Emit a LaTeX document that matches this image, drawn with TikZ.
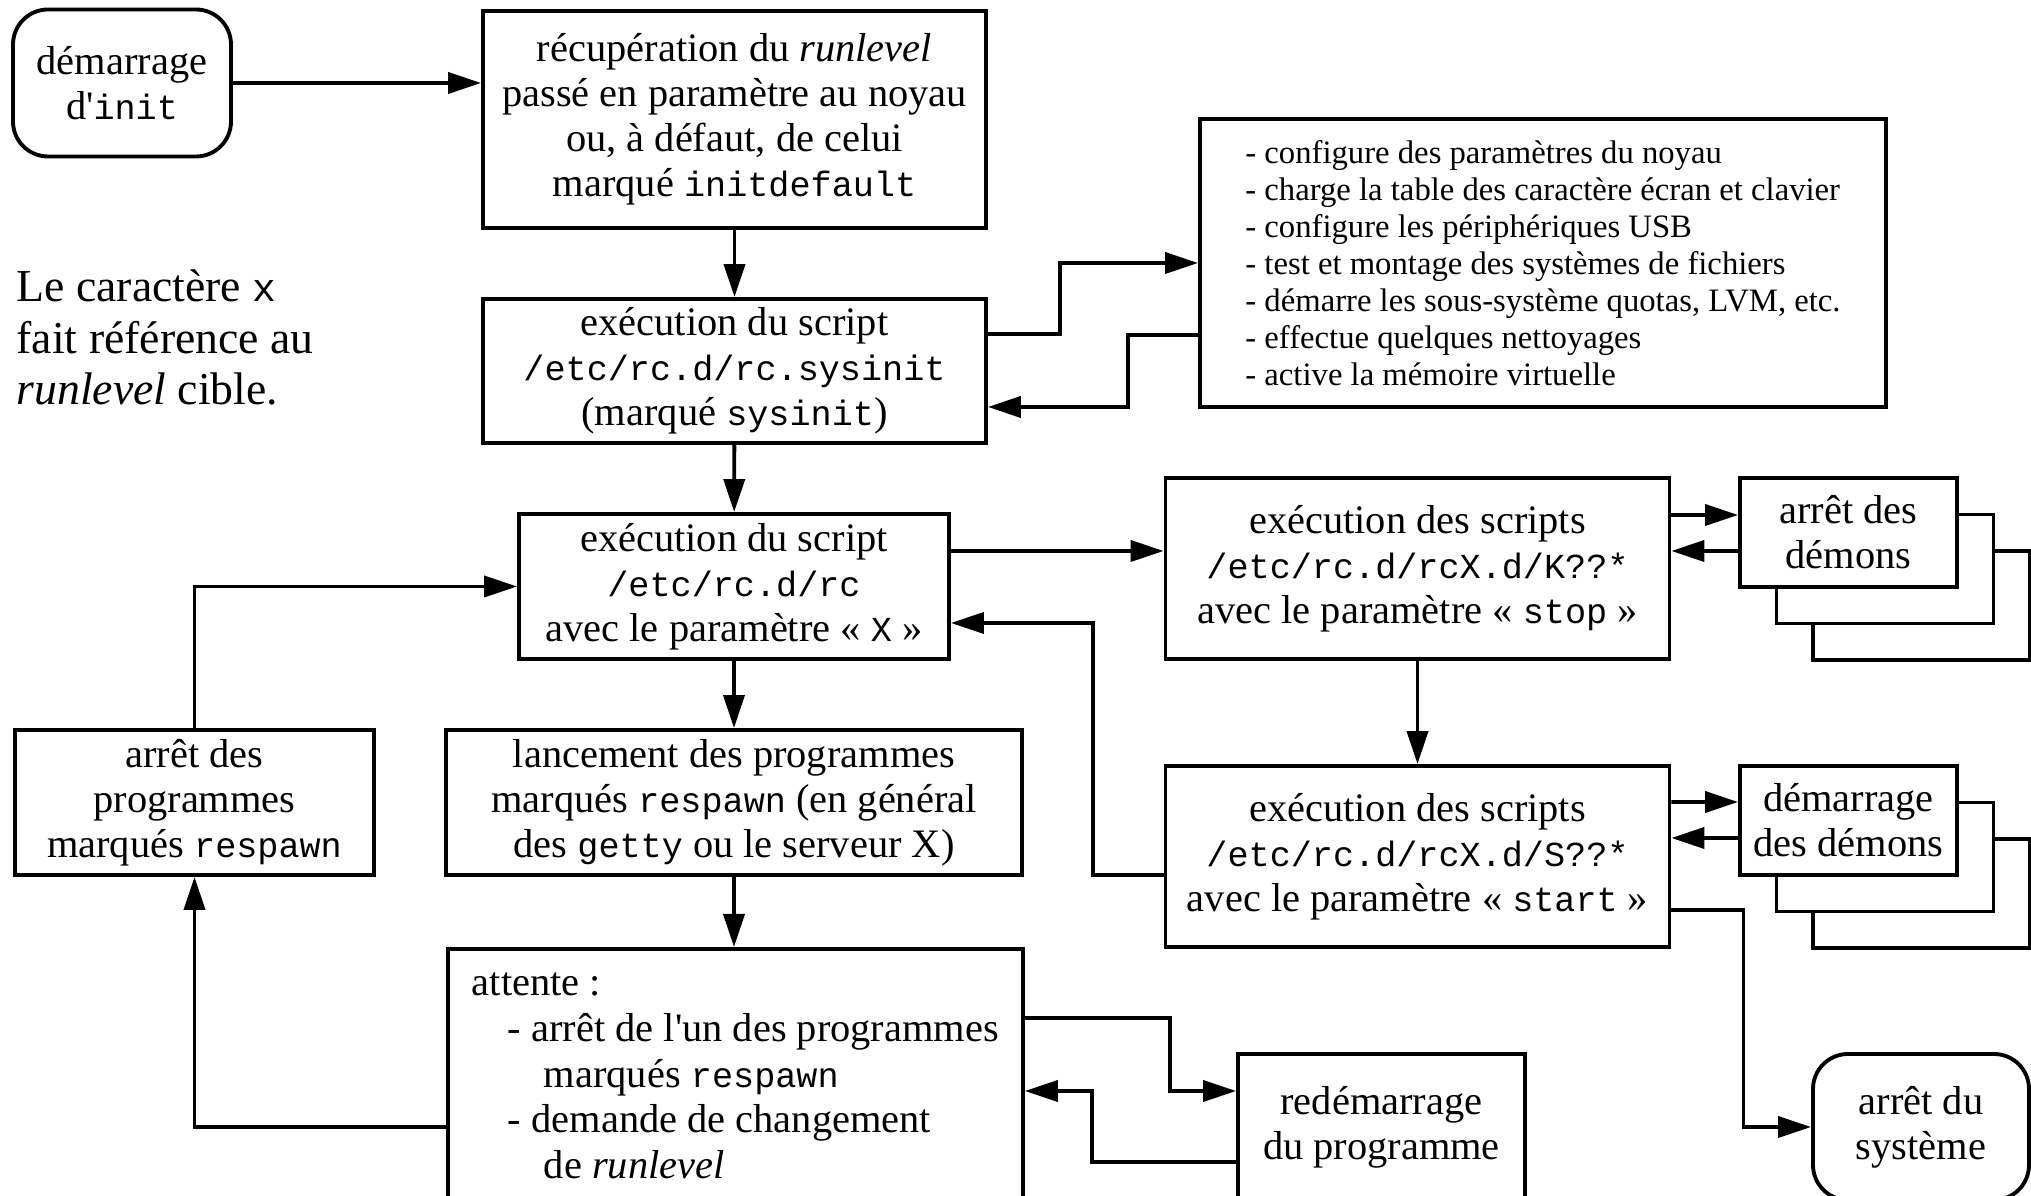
\documentclass[tikz,border=0pt]{standalone}
\usepackage{fontspec}
\setmainfont{Liberation Serif}
\setmonofont{Liberation Mono}[Scale=0.87]
\newfontfamily\droit{Liberation Serif}
\usepackage{tikz}
\usetikzlibrary{arrows.meta}
\tikzset{>=latex}
\tikzstyle{etape}=[draw,line width=1.1pt,fill=white,align=center,inner sep=2pt]
\tikzstyle{extremite}=[etape,rounded corners=3.5mm]
\tikzstyle{pile}=[etape,minimum width=2.17cm,minimum height=1.09cm]
\tikzstyle{fleche}=[-{Triangle[length=3.3mm,width=2.1mm]},line width=1.1pt]
\newcommand{\tnormal}{\fontsize{11.5}{12.8}\selectfont}
\newcommand{\apos}{{\droit'}}

\begin{document}
\begin{tikzpicture}[font=\tnormal]

  \useasboundingbox (0,0) rectangle (20.31,-11.96);
  \clip (0,0) rectangle (20.31,-11.96); % the bottom boxes are cut

  \node[extremite,minimum width=2.18cm,minimum height=1.47cm] (init) at (1.22,-0.83) {démarrage\\d\apos\texttt{init}};
  \node[etape,minimum width=5.03cm,minimum height=2.17cm] (recup) at (7.345,-1.195)
    {récupération du \emph{runlevel}\\passé en paramètre au noyau\\ou, à défaut, de celui\\marqué \texttt{initdefault}};
  \node[etape,minimum width=5.03cm,minimum height=1.44cm] (sysinit) at (7.345,-3.71)
    {exécution du script\\\texttt{/etc/rc.d/rc.sysinit}\\(marqué \texttt{sysinit})};
  \node[etape,minimum width=6.86cm,minimum height=2.88cm,align=left,font=\fontsize{9.3}{10.5}\selectfont] (config) at (15.43,-2.63)
    {- configure des paramètres du noyau\\- charge la table des caractère écran et clavier\\- configure les périphériques USB\\- test et montage des systèmes de fichiers\\- démarre les sous-système quotas, LVM, etc.\\- effectue quelques nettoyages\\- active la mémoire virtuelle};

  \node[anchor=north west,align=left,inner sep=0pt,font=\fontsize{13}{14.7}\selectfont] (note) at (0.16,-2.69)
    {Le caractère \texttt{x}\\fait référence au\\\emph{runlevel} cible.};

  \node[etape,minimum width=4.30cm,minimum height=1.45cm] (rc) at (7.34,-5.865)
    {exécution du script\\\texttt{/etc/rc.d/rc}\\avec le paramètre « \texttt{X} »};
  \node[etape,minimum width=5.04cm,minimum height=1.81cm] (K) at (14.175,-5.685)
    {exécution des scripts\\\texttt{/etc/rc.d/rcX.d/K??*}\\avec le paramètre « \texttt{stop} »};
  \node[etape,minimum width=5.04cm,minimum height=1.81cm] (S) at (14.175,-8.565)
    {exécution des scripts\\\texttt{/etc/rc.d/rcX.d/S??*}\\avec le paramètre « \texttt{start} »};

  % stacks of daemons
  \foreach \d in {2,1}{
    \node[pile] (ad\d) at (18.485+\d*0.365,-5.325-\d*0.365) {};
    \node[pile] (dd\d) at (18.485+\d*0.365,-8.205-\d*0.365) {};
  }
  \node[pile] (ad) at (18.485,-5.325) {arrêt des\\démons};
  \node[pile] (dd) at (18.485,-8.205) {démarrage\\des démons};

  \node[etape,minimum width=5.76cm,minimum height=1.45cm] (lanc) at (7.34,-8.025)
    {lancement des programmes\\marqués \texttt{respawn} (en général\\des \texttt{getty} ou le serveur X)};
  \node[etape,minimum width=3.59cm,minimum height=1.45cm] (aprog) at (1.945,-8.025)
    {arrêt des\\programmes\\marqués \texttt{respawn}};
  \node[etape,anchor=north west,minimum width=5.75cm,inner ysep=0.24cm,align=left,font=\fontsize{11.5}{13}\selectfont] (attente) at (4.46,-9.47)
    {attente :\\\hspace*{3.6mm}- arrêt de l\apos un des programmes\\\hspace*{7.2mm}marqués \texttt{respawn}\\\hspace*{3.6mm}- demande de changement\\\hspace*{7.2mm}de \emph{runlevel}\rule[-5mm]{0pt}{1mm}};
  \node[etape,minimum width=2.87cm,minimum height=1.46cm] (redem) at (13.815,-11.27) {redémarrage\\du programme};
  \node[extremite,minimum width=2.16cm,minimum height=1.46cm] (asys) at (19.21,-11.27) {arrêt du\\système};

  % connectors
  \draw[fleche] (init) -- (init -| recup.west);
  \draw[fleche] (recup) -- (sysinit);
  \draw[fleche] ([yshift=3.7mm]sysinit.east) -- ++(0.72,0) |- (config.west);
  \draw[fleche] ([yshift=-7.2mm]config.west) -- ++(-0.70,0) |- ([yshift=-3.6mm]sysinit.east);
  \draw[fleche] (sysinit) -- (rc);
  \draw[fleche] ([yshift=3.55mm]rc.east) -- ([yshift=1.75mm]K.west);
  \draw[fleche] ([yshift=5.35mm]K.east) -- ([yshift=1.75mm]ad.west);
  \draw[fleche] ([yshift=-1.85mm]ad.west) -- ([yshift=1.75mm]K.east);
  \draw[fleche] (K) -- (S);
  \draw[fleche] ([yshift=5.45mm]S.east) -- ([yshift=1.85mm]dd.west);
  \draw[fleche] ([yshift=-1.75mm]dd.west) -- ([yshift=1.85mm]S.east);
  \draw[fleche] ([yshift=-5.35mm]S.east) -- ++(0.72,0) |- (asys);
  \draw[fleche] ([yshift=-1.85mm]S.west) -- ++(-0.71,0) |- ([yshift=-3.65mm]rc.east);
  \draw[fleche] (rc) -- (lanc);
  \draw[fleche] (lanc) -- (lanc |- attente.north);
  \draw[fleche] (attente.west |- redem) -| (aprog);
  \draw[fleche] (aprog) |- (rc);
  \draw[fleche] ([yshift=-7.1mm]attente.north east) -- ++(1.45,0) |- ([yshift=3.6mm]redem.west);
  \draw[fleche] ([yshift=-3.5mm]redem.west) -- ++(-1.44,0) |- ([yshift=-14.4mm]attente.north east);

\end{tikzpicture}
\end{document}
